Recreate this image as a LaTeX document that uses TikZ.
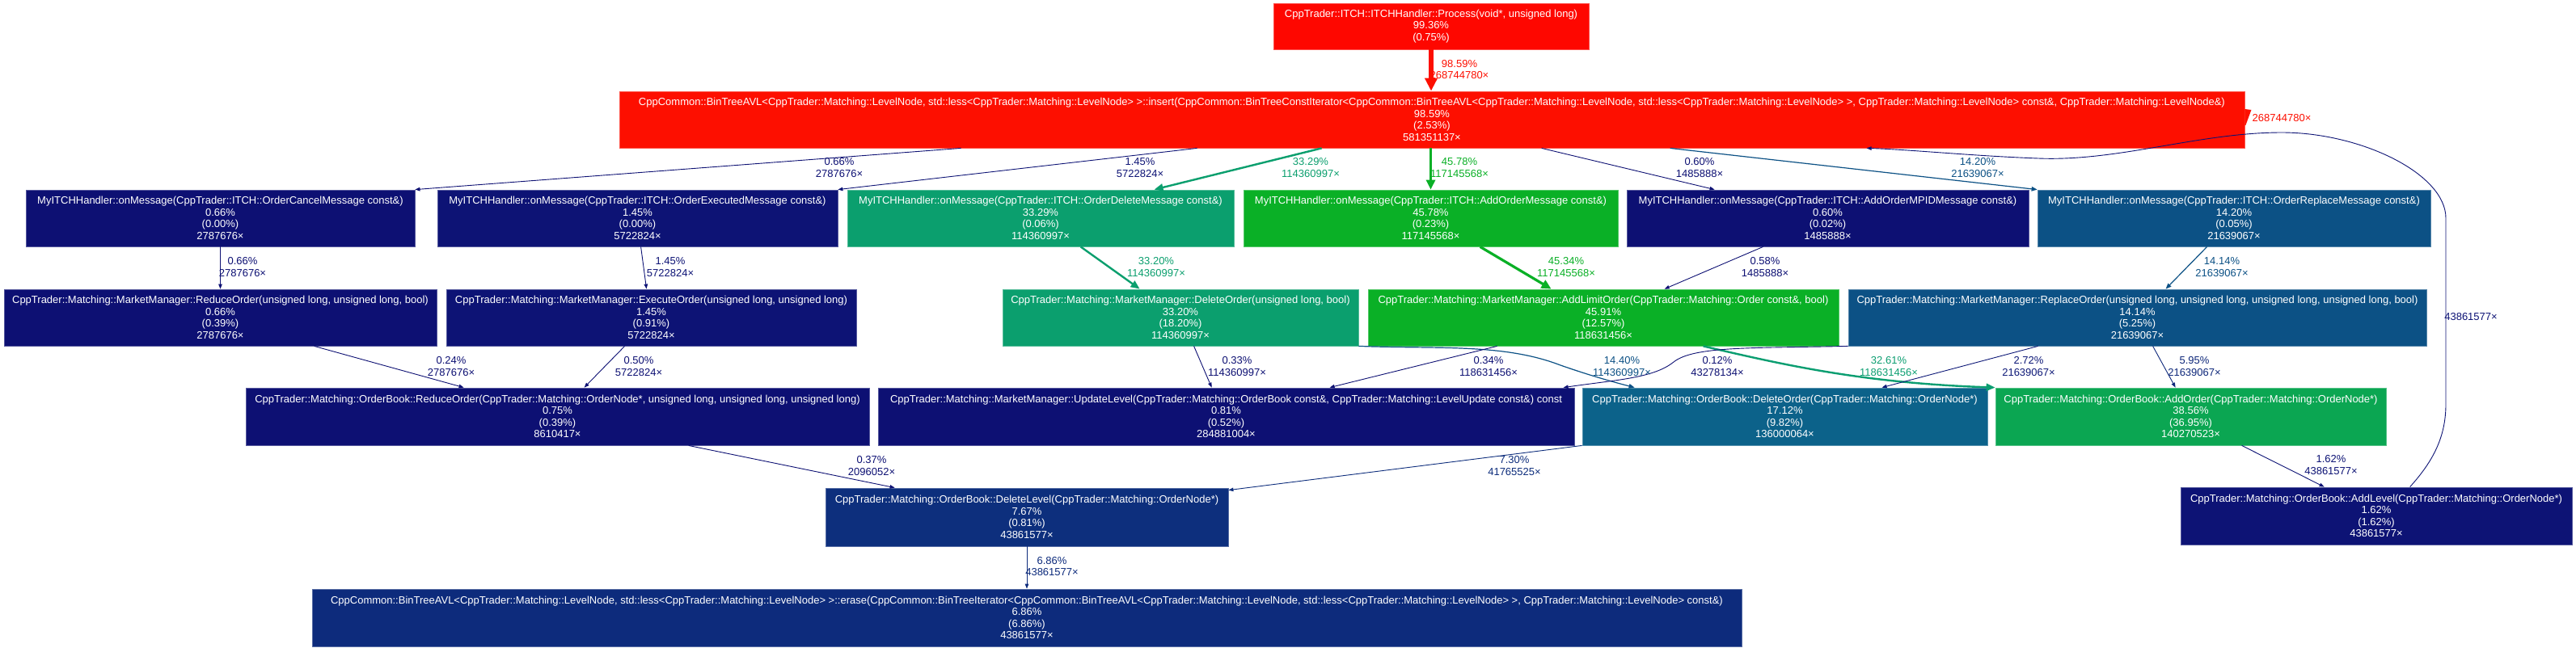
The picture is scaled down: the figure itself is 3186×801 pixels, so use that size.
\documentclass[tikz,border=0pt]{standalone}
\usepackage{fontspec}
\setmainfont{Liberation Sans}
\usetikzlibrary{arrows.meta,calc}
\definecolor{cProc}{HTML}{FE0700}
\definecolor{cIns}{HTML}{FD0F00}
\definecolor{cN0}{HTML}{0D1073}
\definecolor{cN1}{HTML}{0D1375}
\definecolor{cTeal}{HTML}{0B9F6E}
\definecolor{cTealB}{HTML}{0B9E71}
\definecolor{cGreen}{HTML}{0AB026}
\definecolor{cBlueA}{HTML}{0C5185}
\definecolor{cBlueB}{HTML}{0C628A}
\definecolor{cGreenB}{HTML}{0BA652}
\definecolor{cDL}{HTML}{0D2F7D}
\definecolor{cER}{HTML}{0D2B7C}
\definecolor{cEsvn}{HTML}{0D2D7C}
\definecolor{cEtw}{HTML}{0D1877}
\definecolor{cEfv}{HTML}{0D277A}
\newcommand{\fnt}{\fontsize{13}{14.5}\selectfont}
\begin{document}
\begin{tikzpicture}[x=1pt,y=-1pt,
 fn/.style={rectangle, fill=#1, draw=#1!70!white, line width=0.8pt, text=white, align=center, inner sep=0pt, font=\fnt},
 lb/.style={text=#1, align=center, inner sep=0pt, font=\fnt},
 thin/.style={draw=#1, line width=0.9pt, -{Triangle[length=6pt,width=4.5pt]}},
 mid/.style={draw=#1, line width=1.2pt, -{Triangle[length=7pt,width=5.5pt]}},
 wide/.style={draw=#1, line width=2.4pt, -{Triangle[length=11pt,width=9pt]}},
 wider/.style={draw=#1, line width=3.2pt, -{Triangle[length=12pt,width=11pt]}},
 widest/.style={draw=#1, line width=5.6pt, -{Triangle[length=16pt,width=15pt]}},
]
\fill[white] (0,0) rectangle (3186,801);
\useasboundingbox (0,0) rectangle (3186,801);

% nodes
\node[fn=cProc, minimum width=390pt, minimum height=57pt] (proc) at (1770,32.5)
 {CppTrader::ITCH::ITCHHandler::Process(void*, unsigned long)\\99.36\%\\(0.75\%)};
\node[fn=cIns, minimum width=2010pt, minimum height=70pt] (ins) at (1771,148)
 {CppCommon::BinTreeAVL<CppTrader::Matching::LevelNode, std::less<CppTrader::Matching::LevelNode> >::insert(CppCommon::BinTreeConstIterator<CppCommon::BinTreeAVL<CppTrader::Matching::LevelNode, std::less<CppTrader::Matching::LevelNode> >, CppTrader::Matching::LevelNode> const\&, CppTrader::Matching::LevelNode\&)\\98.59\%\\(2.53\%)\\581351137×};

\node[fn=cN0, minimum width=481pt, minimum height=70pt] (cancel) at (272.5,270)
 {MyITCHHandler::onMessage(CppTrader::ITCH::OrderCancelMessage const\&)\\0.66\%\\(0.00\%)\\2787676×};
\node[fn=cN1, minimum width=495pt, minimum height=70pt] (execmsg) at (788.5,270)
 {MyITCHHandler::onMessage(CppTrader::ITCH::OrderExecutedMessage const\&)\\1.45\%\\(0.00\%)\\5722824×};
\node[fn=cTeal, minimum width=478pt, minimum height=70pt] (delmsg) at (1287,270)
 {MyITCHHandler::onMessage(CppTrader::ITCH::OrderDeleteMessage const\&)\\33.29\%\\(0.06\%)\\114360997×};
\node[fn=cGreen, minimum width=463pt, minimum height=70pt] (addmsg) at (1769.5,270)
 {MyITCHHandler::onMessage(CppTrader::ITCH::AddOrderMessage const\&)\\45.78\%\\(0.23\%)\\117145568×};
\node[fn=cN0, minimum width=497pt, minimum height=70pt] (mpid) at (2260.5,270)
 {MyITCHHandler::onMessage(CppTrader::ITCH::AddOrderMPIDMessage const\&)\\0.60\%\\(0.02\%)\\1485888×};
\node[fn=cBlueA, minimum width=486pt, minimum height=70pt] (repmsg) at (2763,270)
 {MyITCHHandler::onMessage(CppTrader::ITCH::OrderReplaceMessage const\&)\\14.20\%\\(0.05\%)\\21639067×};

\node[fn=cN0, minimum width=535pt, minimum height=70pt] (mmreduce) at (272.5,393)
 {CppTrader::Matching::MarketManager::ReduceOrder(unsigned long, unsigned long, bool)\\0.66\%\\(0.39\%)\\2787676×};
\node[fn=cN1, minimum width=507pt, minimum height=70pt] (mmexec) at (805.5,393)
 {CppTrader::Matching::MarketManager::ExecuteOrder(unsigned long, unsigned long)\\1.45\%\\(0.91\%)\\5722824×};
\node[fn=cTeal, minimum width=440pt, minimum height=70pt] (mmdel) at (1460,393)
 {CppTrader::Matching::MarketManager::DeleteOrder(unsigned long, bool)\\33.20\%\\(18.20\%)\\114360997×};
\node[fn=cGreen, minimum width=582pt, minimum height=70pt] (mmadd) at (1983,393)
 {CppTrader::Matching::MarketManager::AddLimitOrder(CppTrader::Matching::Order const\&, bool)\\45.91\%\\(12.57\%)\\118631456×};
\node[fn=cBlueA, minimum width=715pt, minimum height=70pt] (mmrep) at (2643.5,393)
 {CppTrader::Matching::MarketManager::ReplaceOrder(unsigned long, unsigned long, unsigned long, unsigned long, bool)\\14.14\%\\(5.25\%)\\21639067×};

\node[fn=cN0, minimum width=771pt, minimum height=71pt] (obreduce) at (689.5,515.5)
 {CppTrader::Matching::OrderBook::ReduceOrder(CppTrader::Matching::OrderNode*, unsigned long, unsigned long, unsigned long)\\0.75\%\\(0.39\%)\\8610417×};
\node[fn=cN0, minimum width=861pt, minimum height=71pt] (update) at (1516.5,515.5)
 {CppTrader::Matching::MarketManager::UpdateLevel(CppTrader::Matching::OrderBook const\&, CppTrader::Matching::LevelUpdate const\&) const\\0.81\%\\(0.52\%)\\284881004×};
\node[fn=cBlueB, minimum width=501pt, minimum height=71pt] (obdel) at (2207.5,515.5)
 {CppTrader::Matching::OrderBook::DeleteOrder(CppTrader::Matching::OrderNode*)\\17.12\%\\(9.82\%)\\136000064×};
\node[fn=cGreenB, minimum width=483pt, minimum height=71pt] (obadd) at (2709.5,515.5)
 {CppTrader::Matching::OrderBook::AddOrder(CppTrader::Matching::OrderNode*)\\38.56\%\\(36.95\%)\\140270523×};

\node[fn=cDL, minimum width=498pt, minimum height=72pt] (dellevel) at (1270,640)
 {CppTrader::Matching::OrderBook::DeleteLevel(CppTrader::Matching::OrderNode*)\\7.67\%\\(0.81\%)\\43861577×};
\node[fn=cN1, minimum width=484pt, minimum height=71pt] (addlevel) at (2939,638.5)
 {CppTrader::Matching::OrderBook::AddLevel(CppTrader::Matching::OrderNode*)\\1.62\%\\(1.62\%)\\43861577×};
\node[fn=cER, minimum width=1768pt, minimum height=71pt] (erase) at (1270,764.5)
 {CppCommon::BinTreeAVL<CppTrader::Matching::LevelNode, std::less<CppTrader::Matching::LevelNode> >::erase(CppCommon::BinTreeIterator<CppCommon::BinTreeAVL<CppTrader::Matching::LevelNode, std::less<CppTrader::Matching::LevelNode> >, CppTrader::Matching::LevelNode> const\&)\\6.86\%\\(6.86\%)\\43861577×};

% edges
\draw[widest=cIns] (proc.south) -- (ins.north -| proc.south);
\draw[thin=cN0] ($(ins.south west)+(423,0)$) -- (cancel.north east);
\draw[thin=cN1] ($(ins.south west)+(715,0)$) -- (execmsg.north east);
\draw[wide=cTeal] ($(ins.south west)+(869,0)$) -- ($(delmsg.north west)+(380,0)$);
\draw[wider=cGreen] (addmsg.north |- ins.south) -- (addmsg.north);
\draw[thin=cN0] ($(ins.south west)+(1141,0)$) -- ($(mpid.north west)+(109,0)$);
\draw[mid=cBlueA] ($(ins.south west)+(1300,0)$) -- (repmsg.north west);
\draw[thin=cN1] ($(addlevel.north west)+(284,0)$) .. controls (3010,570) and (3025,540) .. (3025,500)
  -- (3025,270) .. controls (3025,215) and (2920,164) .. (2822,164)
  .. controls (2720,164) and (2620,200) .. (2521,196)
  .. controls (2440,193) and (2360,185) .. ($(ins.south west)+(1543,0)$);
\fill[cIns] ($(ins.east)+(0,-13)$) -- ++(8,1) -- ++(-7,19) -- ++(-1,0) -- cycle;

\draw[thin=cN0] (cancel.south) -- (mmreduce.north);
\draw[thin=cN1] ($(execmsg.south west)+(252,0)$) -- ($(mmexec.north west)+(248,0)$);
\draw[wide=cTeal] ($(delmsg.south west)+(289,0)$) -- ($(mmdel.north west)+(170,0)$);
\draw[wider=cGreen] ($(addmsg.south west)+(293,0)$) -- ($(mmadd.north west)+(227,0)$);
\draw[thin=cN0] ($(mpid.south west)+(169,0)$) -- ($(mmadd.north west)+(367,0)$);
\draw[mid=cBlueA] ($(repmsg.south west)+(210,0)$) -- ($(mmrep.north west)+(393,0)$);

\draw[thin=cN0] ($(mmreduce.south west)+(384,0)$) -- ($(obreduce.north west)+(270,0)$);
\draw[thin=cN0] ($(mmexec.south west)+(221,0)$) -- ($(obreduce.north west)+(419,0)$);
\draw[thin=cN0] ($(mmdel.south west)+(237,0)$) -- ($(update.north west)+(413,0)$);
\draw[mid=cBlueA] (mmdel.south east) .. controls (1780,432) and (1860,425) .. (1930,452)
  .. controls (1970,466) and (2000,474) .. ($(obdel.north west)+(65,0)$);
\draw[thin=cN0] ($(mmadd.south west)+(160,0)$) -- ($(update.north west)+(559,0)$);
\draw[wide=cTealB] ($(mmadd.south west)+(415,0)$) .. controls (2200,450) and (2300,474) .. (obadd.north west);
\draw[thin=cN0] (mmrep.south west) .. controls (2170,431) and (2095,428) .. (2070,448)
  .. controls (2045,468) and (2000,470) .. ($(update.north west)+(848,0)$);
\draw[thin=cEtw] ($(mmrep.south west)+(235,0)$) -- ($(obdel.north west)+(371,0)$);
\draw[thin=cEfv] ($(mmrep.south west)+(377,0)$) -- ($(obadd.north west)+(223,0)$);

\draw[thin=cN0] ($(obreduce.south west)+(548,0)$) -- ($(dellevel.north west)+(86,0)$);
\draw[thin=cEsvn] (obdel.south west) -- ($(dellevel.north east)+(0,3)$);
\draw[thin=cN1] ($(obadd.south west)+(305,0)$) -- ($(addlevel.north west)+(178,0)$);
\draw[thin=cER] (dellevel.south) -- (erase.north);

% edge labels
\node[lb=cIns] (l1) at (1805,86) {98.59\%\\268744780×};
\node[lb=cN0] (l2) at (1038,207.5) {0.66\%\\2787676×};
\node[lb=cN1] (l3) at (1410,207.5) {1.45\%\\5722824×};
\node[lb=cTeal] (l4) at (1621,207.5) {33.29\%\\114360997×};
\node[lb=cGreen] (l5) at (1805,207.5) {45.78\%\\117145568×};
\node[lb=cN0] (l6) at (2102,207.5) {0.60\%\\1485888×};
\node[lb=cBlueA] (l7) at (2446,207.5) {14.20\%\\21639067×};
\node[lb=cN1] (l8) at (3056,392) {43861577×};
\node[lb=cIns] (l9) at (2822,146) {268744780×};
\node[lb=cN0] (l10) at (300,330.5) {0.66\%\\2787676×};
\node[lb=cN1] (l11) at (829,330.5) {1.45\%\\5722824×};
\node[lb=cTeal] (l12) at (1430,330.5) {33.20\%\\114360997×};
\node[lb=cGreen] (l13) at (1937,330.5) {45.34\%\\117145568×};
\node[lb=cN0] (l14) at (2183,330.5) {0.58\%\\1485888×};
\node[lb=cBlueA] (l15) at (2748,330.5) {14.14\%\\21639067×};
\node[lb=cN0] (l16) at (558,453.5) {0.24\%\\2787676×};
\node[lb=cN0] (l17) at (790,453.5) {0.50\%\\5722824×};
\node[lb=cN0] (l18) at (1530,453.5) {0.33\%\\114360997×};
\node[lb=cBlueA] (l19) at (2006,453.5) {14.40\%\\114360997×};
\node[lb=cN0] (l20) at (1841,453.5) {0.34\%\\118631456×};
\node[lb=cTealB] (l21) at (2336,453.5) {32.61\%\\118631456×};
\node[lb=cN0] (l22) at (2124,453.5) {0.12\%\\43278134×};
\node[lb=cEtw] (l23) at (2509,453.5) {2.72\%\\21639067×};
\node[lb=cEfv] (l24) at (2714,453.5) {5.95\%\\21639067×};
\node[lb=cN0] (l25) at (1078,576.5) {0.37\%\\2096052×};
\node[lb=cEsvn] (l26) at (1873,576.5) {7.30\%\\41765525×};
\node[lb=cN1] (l27) at (2883,575.5) {1.62\%\\43861577×};
\node[lb=cER] (l28) at (1301,701) {6.86\%\\43861577×};
\end{tikzpicture}
\end{document}
